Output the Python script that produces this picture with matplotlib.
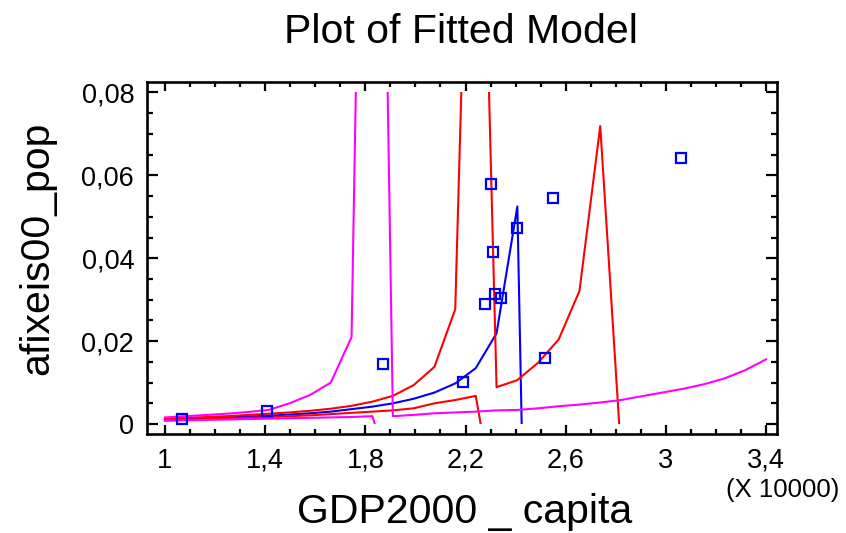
"""
Plot of the fitted model afixeis00_pop vs GDP2000_capita, with the fitted curve,
confidence limits (red) and prediction limits (magenta).
"""
import numpy as np
import matplotlib.pyplot as plt
from matplotlib.patches import Rectangle
from matplotlib.ticker import MultipleLocator, FixedLocator

plt.rcParams['font.family'] = ['Liberation Sans', 'DejaVu Sans']

# ---Observations (GDP in units of 10000)
gdp = [1.066, 1.409, 1.871, 2.190, 2.279, 2.301, 2.310, 2.317, 2.341, 2.405, 2.517, 2.549, 3.059]
pop = [0.0011, 0.0032, 0.0145, 0.0101, 0.0289, 0.0579, 0.0415, 0.0314, 0.0304, 0.0473, 0.0160, 0.0546, 0.0642]

# ---Evaluation grid of the fitted model
x_grid = [1.000, 1.083, 1.166, 1.248, 1.331, 1.414, 1.497, 1.579, 1.662, 1.745,
          1.828, 1.910, 1.993, 2.076, 2.159, 2.241, 2.324, 2.407, 2.490, 2.572,
          2.655, 2.738, 2.821, 2.903, 2.986, 3.069, 3.152, 3.234, 3.317, 3.400]
nan = np.nan

fitted = [0.0011, 0.0013, 0.0015, 0.0016, 0.0018, 0.0020, 0.0023, 0.0026, 0.0030, 0.0036,
          0.0042, 0.0050, 0.0061, 0.0076, 0.0098, 0.0135, 0.0219, 0.0525, -0.20, nan,
          nan, nan, nan, nan, nan, nan, nan, nan, nan, nan]

conf_upper = [0.0013, 0.0015, 0.0017, 0.0019, 0.0022, 0.0025, 0.0028, 0.0032, 0.0037, 0.0044,
              0.0054, 0.0068, 0.0094, 0.0138, 0.0277, 0.205, 0.0089, 0.0106, 0.0148, 0.0204,
              0.0321, 0.0719, -0.007, nan, nan, nan, nan, nan, nan, nan]

conf_lower = [0.0009, 0.0010, 0.0012, 0.0013, 0.0015, 0.0017, 0.0019, 0.0021, 0.0024, 0.0027,
              0.0030, 0.0033, 0.0038, 0.0050, 0.0058, 0.0068, -0.022, nan, nan, nan,
              nan, nan, nan, nan, nan, nan, nan, nan, nan, nan]

pred_upper = [0.0016, 0.0019, 0.0022, 0.0025, 0.0029, 0.0034, 0.0050, 0.0070, 0.0100, 0.0210,
              0.31, 0.0019, 0.0022, 0.0026, 0.0028, 0.0030, 0.0033, 0.0034, 0.0038, 0.0043,
              0.0047, 0.0052, 0.0058, 0.0067, 0.0076, 0.0085, 0.0096, 0.0110, 0.0130, 0.0156]

pred_lower = [0.0008, 0.0009, 0.0010, 0.0011, 0.0012, 0.0013, 0.0014, 0.0015, 0.0016, 0.0017,
              0.0019, -0.014, nan, nan, nan, nan, nan, nan, nan, nan,
              nan, nan, nan, nan, nan, nan, nan, nan, nan, nan]

xticks = [1, 1.4, 1.8, 2.2, 2.6, 3, 3.4]
xtick_labels = ["1", "1,4", "1,8", "2,2", "2,6", "3", "3,4"]
yticks = [0, 0.02, 0.04, 0.06, 0.08]
ytick_labels = ["0", "0,02", "0,04", "0,06", "0,08"]

# --- Plot
fig = plt.figure(figsize=(8.46, 5.33), dpi=100)
ax = fig.add_axes([146.7 / 846, 1 - 434 / 533, (777.3 - 146.7) / 846, (434 - 81.7) / 533])
ax.set_xlim(0.927, 3.445)
ax.set_ylim(-0.0024, 0.0826)

# curves are cut off at the 0..0.08 range
clip = Rectangle((0.9, 0.0), 2.6, 0.08, transform=ax.transData)

lines = []
lines += ax.plot(x_grid, fitted, color='#0000ff', lw=1.5)
lines += ax.plot(x_grid, conf_upper, color='#ff0000', lw=1.5)
lines += ax.plot(x_grid, conf_lower, color='#ff0000', lw=1.5)
lines += ax.plot(x_grid, pred_upper, color='#ff00ff', lw=1.5)
lines += ax.plot(x_grid, pred_lower, color='#ff00ff', lw=1.5)
for ln in lines:
    ln.set_clip_path(clip)

ax.plot(gdp, pop, 's', ms=6.8, mfc='none', mec='#0000ff', mew=1.6, zorder=5)

# --- Axes styling
for sp in ax.spines.values():
    sp.set_linewidth(1.9)

ax.xaxis.set_major_locator(FixedLocator(xticks))
ax.set_xticklabels(xtick_labels)
ax.xaxis.set_minor_locator(MultipleLocator(0.1))
ax.yaxis.set_major_locator(FixedLocator(yticks))
ax.set_yticklabels(ytick_labels)
ax.yaxis.set_minor_locator(MultipleLocator(0.005))

ax.tick_params(which='both', direction='in', top=True, right=True, labelsize=19.5, width=1.6)
ax.tick_params(axis='x', which='major', length=6.5, pad=10)
ax.tick_params(axis='x', which='minor', length=3.5)
ax.tick_params(axis='y', which='major', length=8, pad=9)
ax.tick_params(axis='y', which='minor', length=4.5)

fig.text(461 / 846, 1 - 43 / 533, "Plot of Fitted Model", fontsize=29.5,
         ha='center', va='baseline')
fig.text(465 / 846, 1 - 523 / 533, "GDP2000 _ capita", fontsize=29.5,
         ha='center', va='baseline')
fig.text(37 / 846, 1 - 248 / 533, "afixeis00_pop", fontsize=29.5,
         rotation=90, ha='center', va='center')
fig.text(783 / 846, 1 - 490 / 533, "(X 10000)", fontsize=18.5,
         ha='center', va='center')

fig.savefig("out.png", dpi=100)
